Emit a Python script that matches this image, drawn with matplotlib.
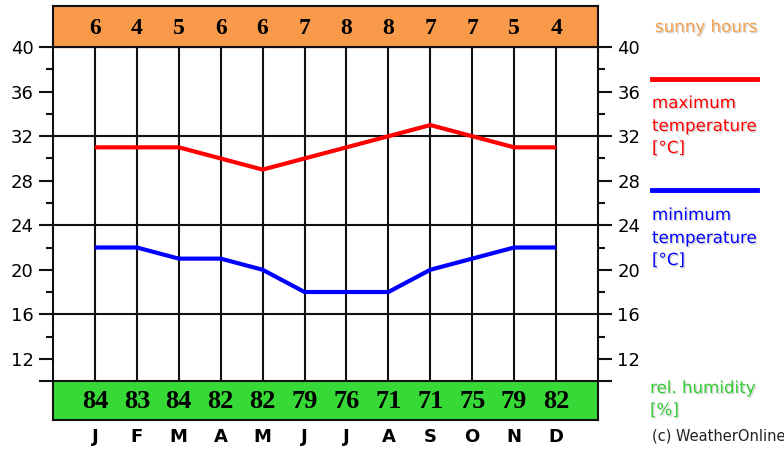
import numpy as np
import matplotlib
matplotlib.use("Agg")
import matplotlib.pyplot as plt
import matplotlib.patheffects as pe

months = ['J', 'F', 'M', 'A', 'M', 'J', 'J', 'A', 'S', 'O', 'N', 'D']
sunny_hours = [6, 4, 5, 6, 6, 7, 8, 8, 7, 7, 5, 4]
humidity = [84, 83, 84, 82, 82, 79, 76, 71, 71, 75, 79, 82]
t_max = [31, 31, 31, 30, 29, 30, 31, 32, 33, 32, 31, 31]
t_min = [22, 22, 21, 21, 20, 18, 18, 18, 20, 21, 22, 22]

W, H = 784, 449
fig = plt.figure(figsize=(W / 100, H / 100), dpi=100)
ax = fig.add_axes([53 / W, 29 / H, 545 / W, 414 / H])

x = np.arange(len(months))
ax.set_xlim(-1, 12)
ax.set_ylim(6.5, 43.7)

orange = '#f9994a'
green = '#36d936'
edge = '#111111'

# bands for sunny hours (top) and humidity (bottom)
ax.axhspan(40, 43.7, color=orange, zorder=0)
ax.axhspan(6.5, 10, color=green, zorder=0)

# grid
for yv in [10, 16, 24, 32, 40]:
    ax.axhline(yv, color=edge, lw=1.5, zorder=1)
ax.vlines(x, 10, 40, color=edge, lw=1.5, zorder=1)

ax.plot(x, t_max, color='#ff0000', lw=3, zorder=3, solid_capstyle='butt')
ax.plot(x, t_min, color='#0000ff', lw=3, zorder=3, solid_capstyle='butt')

for i in range(len(months)):
    ax.text(x[i], 41.7, str(sunny_hours[i]), ha='center', va='center',
            family='Liberation Serif', weight='bold', fontsize=17)
    ax.text(x[i], 8.2, str(humidity[i]), ha='center', va='center',
            family='Liberation Serif', weight='bold', fontsize=19)
    ax.text(x[i], 4.95, months[i], ha='center', va='center', clip_on=False,
            family='DejaVu Sans', weight='bold', fontsize=13)

major = [10] + list(range(12, 41, 4))
ax.set_yticks(major, [''] + [str(v) for v in range(12, 41, 4)])
ax.set_yticks(list(range(14, 39, 4)), minor=True)
ax.set_xticks([])
ax.tick_params(axis='y', which='major', length=10, width=1.5, color=edge,
               left=True, right=True, labelleft=True, labelright=True,
               labelsize=13, pad=4)
ax.tick_params(axis='y', which='minor', length=5, width=1.5, color=edge,
               left=True, right=True)
for s in ax.spines.values():
    s.set_linewidth(1.5)
    s.set_color(edge)

# right-hand legend
shadow = [pe.withSimplePatchShadow(offset=(1, -1), shadow_rgbFace='#888888', alpha=0.35)]

def label(px, py, s, c):
    fig.text(px / W, 1 - py / H, s, color=c, fontsize=12, family='DejaVu Sans',
             ha='left', va='center', path_effects=shadow)

label(655, 27, 'sunny hours', '#f5a04e')
fig.add_artist(plt.Line2D([652 / W, 757 / W], [1 - 79 / H, 1 - 79 / H],
                          color='#ff0000', lw=3.5))
label(652, 103, 'maximum', '#ff0000')
label(652, 126, 'temperature', '#ff0000')
label(652, 148, '[°C]', '#ff0000')
fig.add_artist(plt.Line2D([652 / W, 757 / W], [1 - 190 / H, 1 - 190 / H],
                          color='#0000ff', lw=3.5))
label(652, 215, 'minimum', '#0000ff')
label(652, 238, 'temperature', '#0000ff')
label(652, 260, '[°C]', '#0000ff')
label(650, 388, 'rel. humidity', '#33cc33')
label(650, 410, '[%]', '#33cc33')
fig.text(652 / W, 1 - 436 / H, '(c) WeatherOnline', color='#222222', fontsize=10.5,
         family='DejaVu Sans', ha='left', va='center')

fig.savefig('out.png', dpi=100)
